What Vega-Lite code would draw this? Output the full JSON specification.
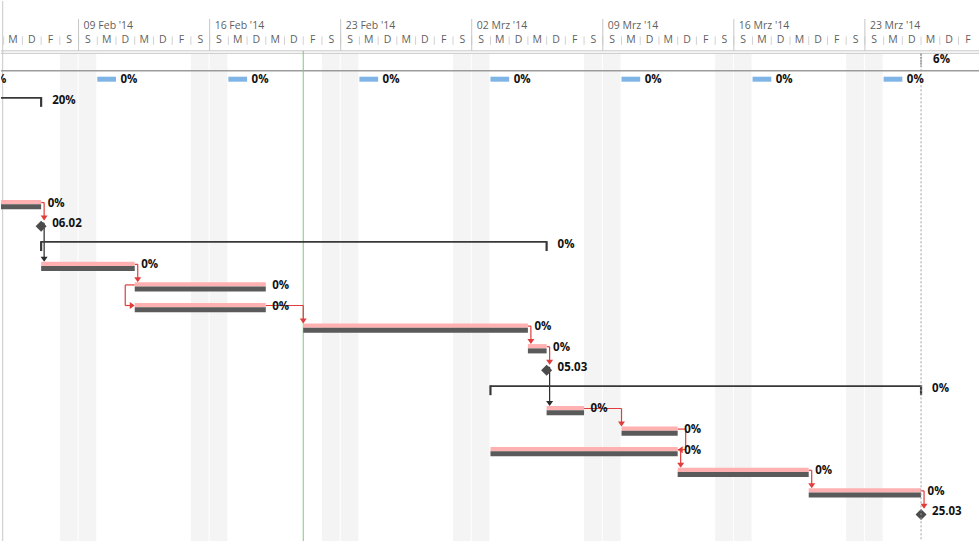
{
"$schema": "https://vega.github.io/schema/vega-lite/v6.json",
"width": 980, "height": 542,
"autosize": {"type": "fit", "contains": "padding"},
"padding": 0,
"background": "white",
"config": {"view": {"stroke": null}, "axis": {"disable": true}, "legend": {"disable": true}},
"data": {"values": [{}]},
"datasets": {
"days": [
{"d":"2014-02-05","l":"M"},{"d":"2014-02-06","l":"D"},{"d":"2014-02-07","l":"F"},{"d":"2014-02-08","l":"S"},
{"d":"2014-02-09","l":"S","w":"09 Feb '14"},{"d":"2014-02-10","l":"M"},{"d":"2014-02-11","l":"D"},{"d":"2014-02-12","l":"M"},{"d":"2014-02-13","l":"D"},{"d":"2014-02-14","l":"F"},{"d":"2014-02-15","l":"S"},
{"d":"2014-02-16","l":"S","w":"16 Feb '14"},{"d":"2014-02-17","l":"M"},{"d":"2014-02-18","l":"D"},{"d":"2014-02-19","l":"M"},{"d":"2014-02-20","l":"D"},{"d":"2014-02-21","l":"F"},{"d":"2014-02-22","l":"S"},
{"d":"2014-02-23","l":"S","w":"23 Feb '14"},{"d":"2014-02-24","l":"M"},{"d":"2014-02-25","l":"D"},{"d":"2014-02-26","l":"M"},{"d":"2014-02-27","l":"D"},{"d":"2014-02-28","l":"F"},{"d":"2014-03-01","l":"S"},
{"d":"2014-03-02","l":"S","w":"02 Mrz '14"},{"d":"2014-03-03","l":"M"},{"d":"2014-03-04","l":"D"},{"d":"2014-03-05","l":"M"},{"d":"2014-03-06","l":"D"},{"d":"2014-03-07","l":"F"},{"d":"2014-03-08","l":"S"},
{"d":"2014-03-09","l":"S","w":"09 Mrz '14"},{"d":"2014-03-10","l":"M"},{"d":"2014-03-11","l":"D"},{"d":"2014-03-12","l":"M"},{"d":"2014-03-13","l":"D"},{"d":"2014-03-14","l":"F"},{"d":"2014-03-15","l":"S"},
{"d":"2014-03-16","l":"S","w":"16 Mrz '14"},{"d":"2014-03-17","l":"M"},{"d":"2014-03-18","l":"D"},{"d":"2014-03-19","l":"M"},{"d":"2014-03-20","l":"D"},{"d":"2014-03-21","l":"F"},{"d":"2014-03-22","l":"S"},
{"d":"2014-03-23","l":"S","w":"23 Mrz '14"},{"d":"2014-03-24","l":"M"},{"d":"2014-03-25","l":"D"},{"d":"2014-03-26","l":"M"},{"d":"2014-03-27","l":"D"},{"d":"2014-03-28","l":"F"}
],
"weekends": [
{"s":"2014-02-08","e":"2014-02-09"},{"s":"2014-02-09","e":"2014-02-10"},
{"s":"2014-02-15","e":"2014-02-16"},{"s":"2014-02-16","e":"2014-02-17"},
{"s":"2014-02-22","e":"2014-02-23"},{"s":"2014-02-23","e":"2014-02-24"},
{"s":"2014-03-01","e":"2014-03-02"},{"s":"2014-03-02","e":"2014-03-03"},
{"s":"2014-03-08","e":"2014-03-09"},{"s":"2014-03-09","e":"2014-03-10"},
{"s":"2014-03-15","e":"2014-03-16"},{"s":"2014-03-16","e":"2014-03-17"},
{"s":"2014-03-22","e":"2014-03-23"},{"s":"2014-03-23","e":"2014-03-24"}
],
"tasks": [
{"r":0,"t":"project","s":"2014-01-13","e":"2014-03-26","p":"6%"},
{"r":1,"t":"rec","s":"2014-02-03","e":"2014-02-04","p":"0%"},
{"r":1,"t":"rec","s":"2014-02-10","e":"2014-02-11","p":"0%"},
{"r":1,"t":"rec","s":"2014-02-17","e":"2014-02-18","p":"0%"},
{"r":1,"t":"rec","s":"2014-02-24","e":"2014-02-25","p":"0%"},
{"r":1,"t":"rec","s":"2014-03-03","e":"2014-03-04","p":"0%"},
{"r":1,"t":"rec","s":"2014-03-10","e":"2014-03-11","p":"0%"},
{"r":1,"t":"rec","s":"2014-03-17","e":"2014-03-18","p":"0%"},
{"r":1,"t":"rec","s":"2014-03-24","e":"2014-03-25","p":"0%"},
{"r":2,"t":"summary","s":"2014-01-27","e":"2014-02-07","p":"20%"},
{"r":7,"t":"task","s":"2014-02-03","e":"2014-02-07","p":"0%"},
{"r":8,"t":"milestone","s":"2014-02-07","e":"2014-02-07","p":"06.02"},
{"r":9,"t":"summary","s":"2014-02-07","e":"2014-03-06","p":"0%"},
{"r":10,"t":"task","s":"2014-02-07","e":"2014-02-12","p":"0%"},
{"r":11,"t":"task","s":"2014-02-12","e":"2014-02-19","p":"0%"},
{"r":12,"t":"task","s":"2014-02-12","e":"2014-02-19","p":"0%"},
{"r":13,"t":"task","s":"2014-02-21","e":"2014-03-05","p":"0%"},
{"r":14,"t":"task","s":"2014-03-05","e":"2014-03-06","p":"0%"},
{"r":15,"t":"milestone","s":"2014-03-06","e":"2014-03-06","p":"05.03"},
{"r":16,"t":"summary","s":"2014-03-03","e":"2014-03-26","p":"0%"},
{"r":17,"t":"task","s":"2014-03-06","e":"2014-03-08","p":"0%"},
{"r":18,"t":"task","s":"2014-03-10","e":"2014-03-13","p":"0%"},
{"r":19,"t":"task","s":"2014-03-03","e":"2014-03-13","p":"0%"},
{"r":20,"t":"task","s":"2014-03-13","e":"2014-03-20","p":"0%"},
{"r":21,"t":"task","s":"2014-03-20","e":"2014-03-26","p":"0%"},
{"r":22,"t":"milestone","s":"2014-03-26","e":"2014-03-26","p":"25.03"}
],
"links": [
{"k":"fs","a":7,"b":8,"e":"2014-02-07","s":"2014-02-07","c":"r"},
{"k":"fs","a":8,"b":10,"e":"2014-02-07","s":"2014-02-07","c":"k"},
{"k":"fs","a":10,"b":11,"e":"2014-02-12","s":"2014-02-12","c":"r"},
{"k":"ss","a":11,"b":12,"e":"2014-02-19","s":"2014-02-12","c":"r"},
{"k":"gap","a":12,"b":13,"e":"2014-02-19","s":"2014-02-21","c":"r"},
{"k":"fs","a":13,"b":14,"e":"2014-03-05","s":"2014-03-05","c":"r"},
{"k":"fs","a":14,"b":15,"e":"2014-03-06","s":"2014-03-06","c":"r"},
{"k":"fs","a":15,"b":17,"e":"2014-03-06","s":"2014-03-06","c":"k"},
{"k":"gap","a":17,"b":18,"e":"2014-03-08","s":"2014-03-10","c":"r"},
{"k":"ff","a":18,"b":19,"e":"2014-03-13","s":"2014-03-13","c":"r"},
{"k":"fs","a":19,"b":20,"e":"2014-03-13","s":"2014-03-13","c":"r"},
{"k":"fs","a":20,"b":21,"e":"2014-03-20","s":"2014-03-20","c":"r"},
{"k":"fs","a":21,"b":22,"e":"2014-03-26","s":"2014-03-26","c":"r"}
]
},
"layer": [
{"data":{"name":"weekends"},"mark":{"type":"rect","color":"#f4f4f4","x2Offset":-1,"clip":true},
 "encoding":{"x":{"field":"s","type":"temporal","scale":{"type":"utc","domain":[{"year":2014,"month":2,"date":4,"hours":20,"minutes":33,"utc":true},{"year":2014,"month":3,"date":29,"hours":2,"minutes":17,"utc":true}]}},"x2":{"field":"e"},
 "y":{"datum":-0.247,"type":"quantitative","scale":{"domain":[-2.787,23.435],"reverse":true,"nice":false,"zero":false}},"y2":{"datum":23.435}}},
{"mark":{"type":"rule","color":"#c8c8c8","xOffset":-1},
 "encoding":{"x":{"datum":{"year":2014,"month":2,"date":5,"utc":true},"type":"temporal","scale":{"type":"utc","domain":[{"year":2014,"month":2,"date":4,"hours":20,"minutes":33,"utc":true},{"year":2014,"month":3,"date":29,"hours":2,"minutes":17,"utc":true}]}}}},
{"mark":{"type":"rule","color":"#c6c6c6","strokeWidth":1},
 "encoding":{"y":{"datum":-0.368,"type":"quantitative","scale":{"domain":[-2.787,23.435],"reverse":true,"nice":false,"zero":false}}}},
{"mark":{"type":"rule","color":"#c6c6c6","strokeWidth":1},
 "encoding":{"y":{"datum":-0.247,"type":"quantitative","scale":{"domain":[-2.787,23.435],"reverse":true,"nice":false,"zero":false}}}},
{"mark":{"type":"rule","color":"#9c9c9c","strokeWidth":1.3},
 "encoding":{"y":{"datum":0.6,"type":"quantitative","scale":{"domain":[-2.787,23.435],"reverse":true,"nice":false,"zero":false}}}},
{"data":{"name":"days"},"mark":{"type":"rule","color":"#d2d2d2"},
 "encoding":{"x":{"field":"d","type":"temporal","scale":{"type":"utc","domain":[{"year":2014,"month":2,"date":4,"hours":20,"minutes":33,"utc":true},{"year":2014,"month":3,"date":29,"hours":2,"minutes":17,"utc":true}]}},
 "y":{"datum":-1.07,"type":"quantitative","scale":{"domain":[-2.787,23.435],"reverse":true,"nice":false,"zero":false}},"y2":{"datum":-0.658}}},
{"data":{"name":"days"},"transform":[{"filter":"datum.w"}],"mark":{"type":"rule","color":"#c6c6c6"},
 "encoding":{"x":{"field":"d","type":"temporal","scale":{"type":"utc","domain":[{"year":2014,"month":2,"date":4,"hours":20,"minutes":33,"utc":true},{"year":2014,"month":3,"date":29,"hours":2,"minutes":17,"utc":true}]}},
 "y":{"datum":-1.916,"type":"quantitative","scale":{"domain":[-2.787,23.435],"reverse":true,"nice":false,"zero":false}},"y2":{"datum":-0.368}}},
{"mark":{"type":"rule","color":"#7dc87d"},
 "encoding":{"x":{"datum":{"year":2014,"month":2,"date":21,"utc":true},"type":"temporal","scale":{"type":"utc","domain":[{"year":2014,"month":2,"date":4,"hours":20,"minutes":33,"utc":true},{"year":2014,"month":3,"date":29,"hours":2,"minutes":17,"utc":true}]}},
 "y":{"datum":-0.368,"type":"quantitative","scale":{"domain":[-2.787,23.435],"reverse":true,"nice":false,"zero":false}},"y2":{"datum":23.435}}},

{"data":{"name":"links"},"transform":[{"filter":"datum.k=='fs'"}],"mark":{"type":"rule","strokeWidth":1.2,"x2Offset":3},
 "encoding":{"x":{"field":"e","type":"temporal","scale":{"type":"utc","domain":[{"year":2014,"month":2,"date":4,"hours":20,"minutes":33,"utc":true},{"year":2014,"month":3,"date":29,"hours":2,"minutes":17,"utc":true}]}},"x2":{"field":"e"},
 "y":{"field":"a","type":"quantitative","scale":{"domain":[-2.787,23.435],"reverse":true,"nice":false,"zero":false}},
 "color":{"field":"c","type":"nominal","scale":{"domain":["r","k"],"range":["#e03c3c","#2b2b2b"]},"legend":null}}},
{"data":{"name":"links"},"transform":[{"filter":"datum.k=='fs'"}],"mark":{"type":"rule","strokeWidth":1.2,"xOffset":3,"y2Offset":-4},
 "encoding":{"x":{"field":"e","type":"temporal","scale":{"type":"utc","domain":[{"year":2014,"month":2,"date":4,"hours":20,"minutes":33,"utc":true},{"year":2014,"month":3,"date":29,"hours":2,"minutes":17,"utc":true}]}},
 "y":{"field":"a","type":"quantitative","scale":{"domain":[-2.787,23.435],"reverse":true,"nice":false,"zero":false}},"y2":{"field":"b"},
 "color":{"field":"c","type":"nominal","scale":{"domain":["r","k"],"range":["#e03c3c","#2b2b2b"]},"legend":null}}},
{"data":{"name":"links"},"transform":[{"filter":"datum.k=='fs'"}],"mark":{"type":"point","shape":"M-0.7,-1L0.7,-1L0,0Z","size":100,"filled":true,"opacity":1,"strokeWidth":0,"xOffset":3,"yOffset":-2.6},
 "encoding":{"x":{"field":"e","type":"temporal","scale":{"type":"utc","domain":[{"year":2014,"month":2,"date":4,"hours":20,"minutes":33,"utc":true},{"year":2014,"month":3,"date":29,"hours":2,"minutes":17,"utc":true}]}},
 "y":{"field":"b","type":"quantitative","scale":{"domain":[-2.787,23.435],"reverse":true,"nice":false,"zero":false}},
 "color":{"field":"c","type":"nominal","scale":{"domain":["r","k"],"range":["#e03c3c","#2b2b2b"]},"legend":null}}},

{"data":{"name":"links"},"transform":[{"filter":"datum.k=='gap'"}],"mark":{"type":"rule","strokeWidth":1.2},
 "encoding":{"x":{"field":"e","type":"temporal","scale":{"type":"utc","domain":[{"year":2014,"month":2,"date":4,"hours":20,"minutes":33,"utc":true},{"year":2014,"month":3,"date":29,"hours":2,"minutes":17,"utc":true}]}},"x2":{"field":"s"},
 "y":{"field":"a","type":"quantitative","scale":{"domain":[-2.787,23.435],"reverse":true,"nice":false,"zero":false}},
 "color":{"field":"c","type":"nominal","scale":{"domain":["r","k"],"range":["#e03c3c","#2b2b2b"]},"legend":null}}},
{"data":{"name":"links"},"transform":[{"filter":"datum.k=='gap'"}],"mark":{"type":"rule","strokeWidth":1.2,"y2Offset":-4},
 "encoding":{"x":{"field":"s","type":"temporal","scale":{"type":"utc","domain":[{"year":2014,"month":2,"date":4,"hours":20,"minutes":33,"utc":true},{"year":2014,"month":3,"date":29,"hours":2,"minutes":17,"utc":true}]}},
 "y":{"field":"a","type":"quantitative","scale":{"domain":[-2.787,23.435],"reverse":true,"nice":false,"zero":false}},"y2":{"field":"b"},
 "color":{"field":"c","type":"nominal","scale":{"domain":["r","k"],"range":["#e03c3c","#2b2b2b"]},"legend":null}}},
{"data":{"name":"links"},"transform":[{"filter":"datum.k=='gap'"}],"mark":{"type":"point","shape":"M-0.7,-1L0.7,-1L0,0Z","size":100,"filled":true,"opacity":1,"strokeWidth":0,"yOffset":-2.6},
 "encoding":{"x":{"field":"s","type":"temporal","scale":{"type":"utc","domain":[{"year":2014,"month":2,"date":4,"hours":20,"minutes":33,"utc":true},{"year":2014,"month":3,"date":29,"hours":2,"minutes":17,"utc":true}]}},
 "y":{"field":"b","type":"quantitative","scale":{"domain":[-2.787,23.435],"reverse":true,"nice":false,"zero":false}},
 "color":{"field":"c","type":"nominal","scale":{"domain":["r","k"],"range":["#e03c3c","#2b2b2b"]},"legend":null}}},

{"data":{"name":"links"},"transform":[{"filter":"datum.k=='ss'"}],"mark":{"type":"rule","strokeWidth":1.2,"xOffset":-9.5},
 "encoding":{"x":{"field":"s","type":"temporal","scale":{"type":"utc","domain":[{"year":2014,"month":2,"date":4,"hours":20,"minutes":33,"utc":true},{"year":2014,"month":3,"date":29,"hours":2,"minutes":17,"utc":true}]}},"x2":{"field":"s"},
 "y":{"field":"a","type":"quantitative","scale":{"domain":[-2.787,23.435],"reverse":true,"nice":false,"zero":false}},
 "color":{"field":"c","type":"nominal","scale":{"domain":["r","k"],"range":["#e03c3c","#2b2b2b"]},"legend":null}}},
{"data":{"name":"links"},"transform":[{"filter":"datum.k=='ss'"}],"mark":{"type":"rule","strokeWidth":1.2,"xOffset":-9.5},
 "encoding":{"x":{"field":"s","type":"temporal","scale":{"type":"utc","domain":[{"year":2014,"month":2,"date":4,"hours":20,"minutes":33,"utc":true},{"year":2014,"month":3,"date":29,"hours":2,"minutes":17,"utc":true}]}},
 "y":{"field":"a","type":"quantitative","scale":{"domain":[-2.787,23.435],"reverse":true,"nice":false,"zero":false}},"y2":{"field":"b"},
 "color":{"field":"c","type":"nominal","scale":{"domain":["r","k"],"range":["#e03c3c","#2b2b2b"]},"legend":null}}},
{"data":{"name":"links"},"transform":[{"filter":"datum.k=='ss'"}],"mark":{"type":"rule","strokeWidth":1.2,"xOffset":-9.5,"x2Offset":-4},
 "encoding":{"x":{"field":"s","type":"temporal","scale":{"type":"utc","domain":[{"year":2014,"month":2,"date":4,"hours":20,"minutes":33,"utc":true},{"year":2014,"month":3,"date":29,"hours":2,"minutes":17,"utc":true}]}},"x2":{"field":"s"},
 "y":{"field":"b","type":"quantitative","scale":{"domain":[-2.787,23.435],"reverse":true,"nice":false,"zero":false}},
 "color":{"field":"c","type":"nominal","scale":{"domain":["r","k"],"range":["#e03c3c","#2b2b2b"]},"legend":null}}},
{"data":{"name":"links"},"transform":[{"filter":"datum.k=='ss'"}],"mark":{"type":"point","shape":"M-1,-0.7L-1,0.7L0,0Z","size":100,"filled":true,"opacity":1,"strokeWidth":0},
 "encoding":{"x":{"field":"s","type":"temporal","scale":{"type":"utc","domain":[{"year":2014,"month":2,"date":4,"hours":20,"minutes":33,"utc":true},{"year":2014,"month":3,"date":29,"hours":2,"minutes":17,"utc":true}]}},
 "y":{"field":"b","type":"quantitative","scale":{"domain":[-2.787,23.435],"reverse":true,"nice":false,"zero":false}},
 "color":{"field":"c","type":"nominal","scale":{"domain":["r","k"],"range":["#e03c3c","#2b2b2b"]},"legend":null}}},

{"data":{"name":"links"},"transform":[{"filter":"datum.k=='ff'"}],"mark":{"type":"rule","strokeWidth":1.2,"x2Offset":8},
 "encoding":{"x":{"field":"e","type":"temporal","scale":{"type":"utc","domain":[{"year":2014,"month":2,"date":4,"hours":20,"minutes":33,"utc":true},{"year":2014,"month":3,"date":29,"hours":2,"minutes":17,"utc":true}]}},"x2":{"field":"e"},
 "y":{"field":"a","type":"quantitative","scale":{"domain":[-2.787,23.435],"reverse":true,"nice":false,"zero":false}},
 "color":{"field":"c","type":"nominal","scale":{"domain":["r","k"],"range":["#e03c3c","#2b2b2b"]},"legend":null}}},
{"data":{"name":"links"},"transform":[{"filter":"datum.k=='ff'"}],"mark":{"type":"rule","strokeWidth":1.2,"xOffset":8},
 "encoding":{"x":{"field":"e","type":"temporal","scale":{"type":"utc","domain":[{"year":2014,"month":2,"date":4,"hours":20,"minutes":33,"utc":true},{"year":2014,"month":3,"date":29,"hours":2,"minutes":17,"utc":true}]}},
 "y":{"field":"a","type":"quantitative","scale":{"domain":[-2.787,23.435],"reverse":true,"nice":false,"zero":false}},"y2":{"field":"b"},
 "color":{"field":"c","type":"nominal","scale":{"domain":["r","k"],"range":["#e03c3c","#2b2b2b"]},"legend":null}}},
{"data":{"name":"links"},"transform":[{"filter":"datum.k=='ff'"}],"mark":{"type":"rule","strokeWidth":1.2,"xOffset":4,"x2Offset":8},
 "encoding":{"x":{"field":"e","type":"temporal","scale":{"type":"utc","domain":[{"year":2014,"month":2,"date":4,"hours":20,"minutes":33,"utc":true},{"year":2014,"month":3,"date":29,"hours":2,"minutes":17,"utc":true}]}},"x2":{"field":"e"},
 "y":{"field":"b","type":"quantitative","scale":{"domain":[-2.787,23.435],"reverse":true,"nice":false,"zero":false}},
 "color":{"field":"c","type":"nominal","scale":{"domain":["r","k"],"range":["#e03c3c","#2b2b2b"]},"legend":null}}},
{"data":{"name":"links"},"transform":[{"filter":"datum.k=='ff'"}],"mark":{"type":"point","shape":"M1,-0.7L1,0.7L0,0Z","size":100,"filled":true,"opacity":1,"strokeWidth":0},
 "encoding":{"x":{"field":"e","type":"temporal","scale":{"type":"utc","domain":[{"year":2014,"month":2,"date":4,"hours":20,"minutes":33,"utc":true},{"year":2014,"month":3,"date":29,"hours":2,"minutes":17,"utc":true}]}},
 "y":{"field":"b","type":"quantitative","scale":{"domain":[-2.787,23.435],"reverse":true,"nice":false,"zero":false}},
 "color":{"field":"c","type":"nominal","scale":{"domain":["r","k"],"range":["#e03c3c","#2b2b2b"]},"legend":null}}},

{"data":{"name":"tasks"},"transform":[{"filter":"datum.t=='task'"}],"mark":{"type":"rule","color":"#ffb0b0","strokeWidth":4.3,"yOffset":-0.45,"clip":true},
 "encoding":{"x":{"field":"s","type":"temporal","scale":{"type":"utc","domain":[{"year":2014,"month":2,"date":4,"hours":20,"minutes":33,"utc":true},{"year":2014,"month":3,"date":29,"hours":2,"minutes":17,"utc":true}]}},"x2":{"field":"e"},
 "y":{"field":"r","type":"quantitative","scale":{"domain":[-2.787,23.435],"reverse":true,"nice":false,"zero":false}}}},
{"data":{"name":"tasks"},"transform":[{"filter":"datum.t=='task'"}],"mark":{"type":"rule","color":"#5a5a5a","strokeWidth":5,"yOffset":4.2,"clip":true},
 "encoding":{"x":{"field":"s","type":"temporal","scale":{"type":"utc","domain":[{"year":2014,"month":2,"date":4,"hours":20,"minutes":33,"utc":true},{"year":2014,"month":3,"date":29,"hours":2,"minutes":17,"utc":true}]}},"x2":{"field":"e"},
 "y":{"field":"r","type":"quantitative","scale":{"domain":[-2.787,23.435],"reverse":true,"nice":false,"zero":false}}}},

{"data":{"name":"tasks"},"transform":[{"filter":"datum.t=='summary'"}],"mark":{"type":"rule","color":"#383838","strokeWidth":1.8,"yOffset":-1.8,"clip":true},
 "encoding":{"x":{"field":"s","type":"temporal","scale":{"type":"utc","domain":[{"year":2014,"month":2,"date":4,"hours":20,"minutes":33,"utc":true},{"year":2014,"month":3,"date":29,"hours":2,"minutes":17,"utc":true}]}},"x2":{"field":"e"},
 "y":{"field":"r","type":"quantitative","scale":{"domain":[-2.787,23.435],"reverse":true,"nice":false,"zero":false}}}},
{"data":{"name":"tasks"},"transform":[{"filter":"datum.t=='summary'"}],"mark":{"type":"rule","color":"#383838","strokeWidth":2.2,"yOffset":-2.6,"y2Offset":7.3,"clip":true},
 "encoding":{"x":{"field":"s","type":"temporal","scale":{"type":"utc","domain":[{"year":2014,"month":2,"date":4,"hours":20,"minutes":33,"utc":true},{"year":2014,"month":3,"date":29,"hours":2,"minutes":17,"utc":true}]}},
 "y":{"field":"r","type":"quantitative","scale":{"domain":[-2.787,23.435],"reverse":true,"nice":false,"zero":false}},"y2":{"field":"r"}}},
{"data":{"name":"tasks"},"transform":[{"filter":"datum.t=='summary'"}],"mark":{"type":"rule","color":"#383838","strokeWidth":2.2,"yOffset":-2.6,"y2Offset":7.3,"clip":true},
 "encoding":{"x":{"field":"e","type":"temporal","scale":{"type":"utc","domain":[{"year":2014,"month":2,"date":4,"hours":20,"minutes":33,"utc":true},{"year":2014,"month":3,"date":29,"hours":2,"minutes":17,"utc":true}]}},
 "y":{"field":"r","type":"quantitative","scale":{"domain":[-2.787,23.435],"reverse":true,"nice":false,"zero":false}},"y2":{"field":"r"}}},
{"data":{"name":"tasks"},"transform":[{"filter":"datum.t=='project'"}],"mark":{"type":"rule","color":"#a8a8a8","strokeWidth":2,"strokeDash":[2,1],"yOffset":-4.6,"y2Offset":8.4,"clip":true},
 "encoding":{"x":{"field":"e","type":"temporal","scale":{"type":"utc","domain":[{"year":2014,"month":2,"date":4,"hours":20,"minutes":33,"utc":true},{"year":2014,"month":3,"date":29,"hours":2,"minutes":17,"utc":true}]}},
 "y":{"field":"r","type":"quantitative","scale":{"domain":[-2.787,23.435],"reverse":true,"nice":false,"zero":false}},"y2":{"field":"r"}}},
{"data":{"name":"tasks"},"transform":[{"filter":"datum.t=='rec'"}],"mark":{"type":"rule","color":"#7fb4e6","strokeWidth":5,"yOffset":0.2,"clip":true},
 "encoding":{"x":{"field":"s","type":"temporal","scale":{"type":"utc","domain":[{"year":2014,"month":2,"date":4,"hours":20,"minutes":33,"utc":true},{"year":2014,"month":3,"date":29,"hours":2,"minutes":17,"utc":true}]}},"x2":{"field":"e"},
 "y":{"field":"r","type":"quantitative","scale":{"domain":[-2.787,23.435],"reverse":true,"nice":false,"zero":false}}}},
{"data":{"name":"tasks"},"transform":[{"filter":"datum.t=='milestone'"}],"mark":{"type":"point","shape":"diamond","size":121,"filled":true,"opacity":1,"color":"#4b4b4b","strokeWidth":0,"yOffset":3},
 "encoding":{"x":{"field":"e","type":"temporal","scale":{"type":"utc","domain":[{"year":2014,"month":2,"date":4,"hours":20,"minutes":33,"utc":true},{"year":2014,"month":3,"date":29,"hours":2,"minutes":17,"utc":true}]}},
 "y":{"field":"r","type":"quantitative","scale":{"domain":[-2.787,23.435],"reverse":true,"nice":false,"zero":false}}}},
{"mark":{"type":"rule","color":"#a0a0a0","strokeDash":[2,2]},
 "encoding":{"x":{"datum":{"year":2014,"month":3,"date":26,"utc":true},"type":"temporal","scale":{"type":"utc","domain":[{"year":2014,"month":2,"date":4,"hours":20,"minutes":33,"utc":true},{"year":2014,"month":3,"date":29,"hours":2,"minutes":17,"utc":true}]}},
 "y":{"datum":-0.247,"type":"quantitative","scale":{"domain":[-2.787,23.435],"reverse":true,"nice":false,"zero":false}},"y2":{"datum":23.435}}},

{"data":{"name":"tasks"},"transform":[{"filter":"datum.t=='task'"}],"mark":{"type":"text","font":"Open Sans","fontWeight":"bold","fontSize":11.5,"color":"#111111","align":"left","baseline":"middle","dx":6.5,"dy":1,"clip":true},
 "encoding":{"x":{"field":"e","type":"temporal","scale":{"type":"utc","domain":[{"year":2014,"month":2,"date":4,"hours":20,"minutes":33,"utc":true},{"year":2014,"month":3,"date":29,"hours":2,"minutes":17,"utc":true}]}},
 "y":{"field":"r","type":"quantitative","scale":{"domain":[-2.787,23.435],"reverse":true,"nice":false,"zero":false}},"text":{"field":"p"}}},
{"data":{"name":"tasks"},"transform":[{"filter":"datum.t=='summary' || datum.t=='milestone'"}],"mark":{"type":"text","font":"Open Sans","fontWeight":"bold","fontSize":11.5,"color":"#111111","align":"left","baseline":"middle","dx":11,"dy":1,"clip":true},
 "encoding":{"x":{"field":"e","type":"temporal","scale":{"type":"utc","domain":[{"year":2014,"month":2,"date":4,"hours":20,"minutes":33,"utc":true},{"year":2014,"month":3,"date":29,"hours":2,"minutes":17,"utc":true}]}},
 "y":{"field":"r","type":"quantitative","scale":{"domain":[-2.787,23.435],"reverse":true,"nice":false,"zero":false}},"text":{"field":"p"}}},
{"data":{"name":"tasks"},"transform":[{"filter":"datum.t=='project'"}],"mark":{"type":"text","font":"Open Sans","fontWeight":"bold","fontSize":11.5,"color":"#111111","align":"left","baseline":"middle","dx":12,"dy":1.4,"clip":true},
 "encoding":{"x":{"field":"e","type":"temporal","scale":{"type":"utc","domain":[{"year":2014,"month":2,"date":4,"hours":20,"minutes":33,"utc":true},{"year":2014,"month":3,"date":29,"hours":2,"minutes":17,"utc":true}]}},
 "y":{"field":"r","type":"quantitative","scale":{"domain":[-2.787,23.435],"reverse":true,"nice":false,"zero":false}},"text":{"field":"p"}}},
{"data":{"name":"tasks"},"transform":[{"filter":"datum.t=='rec'"}],"mark":{"type":"text","font":"Open Sans","fontWeight":"bold","fontSize":11.5,"color":"#111111","align":"left","baseline":"middle","dx":4.5,"dy":1.2,"clip":true},
 "encoding":{"x":{"field":"e","type":"temporal","scale":{"type":"utc","domain":[{"year":2014,"month":2,"date":4,"hours":20,"minutes":33,"utc":true},{"year":2014,"month":3,"date":29,"hours":2,"minutes":17,"utc":true}]}},
 "y":{"field":"r","type":"quantitative","scale":{"domain":[-2.787,23.435],"reverse":true,"nice":false,"zero":false}},"text":{"field":"p"}}},

{"data":{"name":"days"},"mark":{"type":"text","font":"Open Sans","fontSize":10.5,"color":"#5f5f5f","align":"center","baseline":"middle","clip":true},
 "encoding":{"x":{"field":"d","type":"temporal","timeUnit":"utcyearmonthdate","bandPosition":0.5,"scale":{"type":"utc","domain":[{"year":2014,"month":2,"date":4,"hours":20,"minutes":33,"utc":true},{"year":2014,"month":3,"date":29,"hours":2,"minutes":17,"utc":true}]}},
 "y":{"datum":-0.9,"type":"quantitative","scale":{"domain":[-2.787,23.435],"reverse":true,"nice":false,"zero":false}},"text":{"field":"l"}}},
{"data":{"name":"days"},"transform":[{"filter":"datum.w"}],"mark":{"type":"text","font":"Open Sans","fontSize":10.5,"color":"#5f5f5f","align":"left","baseline":"middle","dx":5,"dy":1,"clip":true},
 "encoding":{"x":{"field":"d","type":"temporal","scale":{"type":"utc","domain":[{"year":2014,"month":2,"date":4,"hours":20,"minutes":33,"utc":true},{"year":2014,"month":3,"date":29,"hours":2,"minutes":17,"utc":true}]}},
 "y":{"datum":-1.626,"type":"quantitative","scale":{"domain":[-2.787,23.435],"reverse":true,"nice":false,"zero":false}},"text":{"field":"w"}}}
]
}
